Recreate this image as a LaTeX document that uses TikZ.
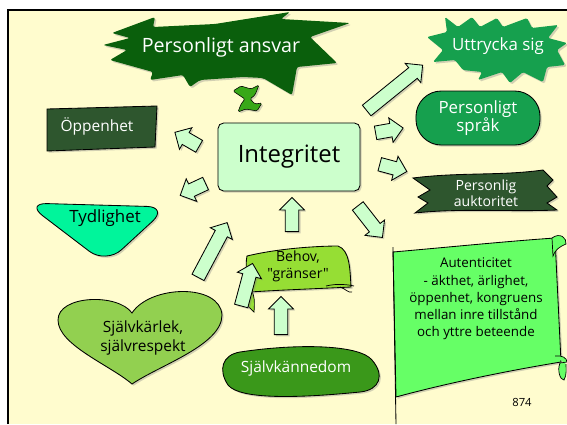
\documentclass[tikz,border=0pt]{standalone}
\usepackage{fontspec}
\setmainfont{Open Sans}[Ligatures=TeXOff]
\usetikzlibrary{shapes.arrows,shadows}

\definecolor{kram}{RGB}{255,252,206}
\definecolor{morkgron}{RGB}{10,95,12}
\definecolor{mellangron}{RGB}{22,160,78}
\definecolor{skoggron}{RGB}{46,86,46}
\definecolor{tydgron}{RGB}{0,245,155}
\definecolor{ljusgron}{RGB}{204,255,204}
\definecolor{behovgron}{RGB}{150,222,52}
\definecolor{kannedomgron}{RGB}{58,152,26}
\definecolor{hjartgron}{RGB}{146,208,80}
\definecolor{autgron}{RGB}{102,255,102}
\definecolor{ikongron}{RGB}{56,168,24}

\begin{document}
\begin{tikzpicture}[x=0.025cm, y=-0.025cm,
		skugga/.style={drop shadow={shadow xshift=1.2pt, shadow yshift=-1.2pt, opacity=0.35}},
		form/.style={draw, line width=0.6pt, skugga},
		pil/.style={single arrow, draw, line width=0.6pt, fill=ljusgron, inner sep=1.6mm,
			single arrow head extend=1.4mm, minimum width=0pt, skugga},
		ljus/.style={text=white, align=center},
		mork/.style={text=black, align=center}]
	\useasboundingbox (0,0) rectangle (567,424);
	\fill[white] (0,0) rectangle (567,424);
	\fill[kram] (8,10) rectangle (567,424);
	\draw[line width=2pt] (8,424) -- (8,10) -- (567,10);

	% Personligt ansvar
	\fill[morkgron, skugga, rounded corners=1.5pt] (112,33) -- (155,17) -- (153,27) -- (215,24) -- (290,12)
		-- (281,19) -- (350,23) -- (310,37) -- (337,63) -- (297,67) -- (292,95) -- (263,78) -- (243,77)
		-- (200,80) -- (190,87) -- (183,75) -- (150,80) -- (153,72) -- (110,60) -- (127,50) -- (103,45)
		-- (130,38) -- cycle;
	\node[ljus, font=\fontsize{14}{16}\selectfont] (ansvar) at (221,47) {Personligt ansvar};
	\filldraw[fill=ikongron, line width=0.4pt, skugga, rounded corners=1pt] (233,91) -- (241,86) -- (251,89)
		-- (259,85) -- (255,95) -- (250,99) -- (255,104) -- (262,103) -- (257,111) -- (246,109)
		-- (238,112) -- (241,104) -- (245,99) -- (239,95) -- cycle;

	% Uttrycka sig
	\fill[mellangron, skugga, rounded corners=1pt] (427,37) -- (447,32) -- (445,17) -- (458,27) -- (472,17)
		-- (480,27) -- (497,18) -- (503,27) -- (527,18) -- (532,28) -- (558,25) -- (548,38) -- (567,43)
		-- (557,50) -- (565,65) -- (547,67) -- (543,82) -- (523,72) -- (510,83) -- (502,72) -- (478,80)
		-- (482,72) -- (463,70) -- (455,60) -- (433,62) -- (443,50) -- cycle;
	\node[ljus, font=\fontsize{12}{14}\selectfont] (uttryck) at (498,46) {Uttrycka sig};

	% Personligt språk
	\node[form, fill=mellangron, rounded corners=18pt, minimum width=3.1cm, minimum height=1.35cm,
		ljus, font=\fontsize{12}{13}\selectfont] (sprak) at (478,118) {Personligt\\språk};

	% Personlig auktoritet
	\filldraw[fill=skoggron, line width=0.6pt, skugga] (413,178) .. controls (460,172) and (500,176) .. (543,170)
		-- (553,180) -- (547,186) -- (557,197) -- (547,203) -- (557,210)
		.. controls (510,212) and (460,208) .. (415,213) -- (428,203) -- (418,197) -- (430,190) -- cycle;
	\node[ljus, font=\fontsize{10}{11}\selectfont] (auktoritet) at (486,193) {Personlig\\auktoritet};

	% Öppenhet
	\filldraw[fill=skoggron, line width=0.6pt, skugga] (47,109) -- (157,106) -- (155,147) -- (47,151) -- cycle;
	\node[ljus, font=\fontsize{11}{13}\selectfont] (oppenhet) at (97,126) {Öppenhet};

	% Tydlighet
	\filldraw[fill=tydgron, line width=0.6pt, skugga, rounded corners=15pt] (26,203) -- (168,207) -- (106,264) -- cycle;
	\node[mork, font=\fontsize{12}{14}\selectfont] (tydlighet) at (105,218) {Tydlighet};

	% Integritet
	\node[form, fill=ljusgron, rounded corners=4pt, minimum width=3.55cm, minimum height=1.7cm,
		mork, font=\fontsize{17}{20}\selectfont] (integritet) at (289,157) {Integritet};

	% Behov
	\filldraw[fill=behovgron, line width=0.6pt, skugga] (247,256) .. controls (280,248) and (320,246) .. (338,246)
		.. controls (350,250) and (350,270) .. (351,287) .. controls (310,289) and (280,290) .. (250,292)
		.. controls (247,280) and (245,265) .. (247,256) -- cycle;
	\filldraw[fill=behovgron, line width=0.5pt] (243,292) .. controls (250,286) and (256,290) .. (254,312)
		.. controls (246,305) and (242,298) .. (243,292) -- cycle;
	\draw[line width=0.5pt] (326,286) .. controls (338,283) and (350,285) .. (354,286)
		(340,287) .. controls (346,289) and (348,293) .. (352,292);
	\node[mork, font=\fontsize{10}{12}\selectfont] (behov) at (298,266) {Behov,\\"gränser"};

	% Självkännedom
	\filldraw[fill=kannedomgron, line width=0.6pt, skugga] (240,352) .. controls (300,343) and (360,345) .. (372,360)
		.. controls (385,375) and (380,390) .. (360,392) .. controls (300,398) and (240,400) .. (228,385)
		.. controls (218,370) and (222,355) .. (240,352) -- cycle;
	\node[ljus, font=\fontsize{11}{13}\selectfont] (kannedom) at (296,368) {Självkännedom};

	% Självkärlek
	\filldraw[fill=hjartgron, line width=0.6pt, skugga] (132,313) .. controls (118,293) and (58,295) .. (58,320)
		.. controls (58,345) and (110,365) .. (132,384) .. controls (160,365) and (222,345) .. (222,315)
		.. controls (220,283) and (150,285) .. (132,313) -- cycle;
	\node[mork, font=\fontsize{11}{13}\selectfont] (karlek) at (143,338) {Självkärlek,\\självrespekt};

	% Autenticitet
	\filldraw[fill=autgron, line width=0.6pt, skugga] (393,252) .. controls (450,247) and (510,241) .. (555,238)
		.. controls (557,280) and (559,320) .. (561,362) .. controls (500,372) and (440,385) .. (396,397)
		.. controls (395,350) and (394,300) .. (393,252) -- cycle;
	\draw[line width=0.6pt] (393,247) -- (396,424);
	\filldraw[fill=autgron, line width=0.5pt] (552,238) .. controls (560,232) and (567,238) .. (566,244)
		.. controls (559,247) and (555,250) .. (553,256) -- cycle;
	\filldraw[fill=autgron, line width=0.5pt] (555,356) .. controls (562,355) and (567,358) .. (567,362)
		-- (560,363) .. controls (557,370) and (560,380) .. (564,380) .. controls (567,375) and (566,368) .. (566,364);
	\node[mork, font=\fontsize{9.5}{12.2}\selectfont] (autentisk) at (476,299)
		{Autenticitet\\- äkthet, ärlighet,\\öppenhet, kongruens\\mellan inre tillstånd\\och yttre beteende};
	\node[font=\fontsize{8}{9}\selectfont] (sida) at (522,402) {874};

	% pilar
	\node[pil, minimum height=0.7cm, rotate=150] (p1) at (190,141) {};
	\node[pil, minimum height=0.7cm, rotate=205] (p2) at (196,188) {};
	\node[pil, minimum height=1.55cm, rotate=62] (p3) at (211,253) {};
	\node[pil, minimum height=0.85cm, rotate=90] (p4) at (292,218) {};
	\node[pil, minimum height=1.0cm, rotate=-52] (p5) at (368,219) {};
	\node[pil, minimum height=1.8cm, rotate=39] (p6) at (392,90) {};
	\node[pil, minimum height=0.7cm, rotate=10] (p7) at (386,131) {};
	\node[pil, minimum height=0.7cm, rotate=-15] (p8) at (390,167) {};
	\node[pil, minimum height=0.95cm, rotate=90] (p9) at (281,319) {};
	\node[pil, minimum height=1.1cm, rotate=75] (p10) at (246,288) {};
\end{tikzpicture}
\end{document}
